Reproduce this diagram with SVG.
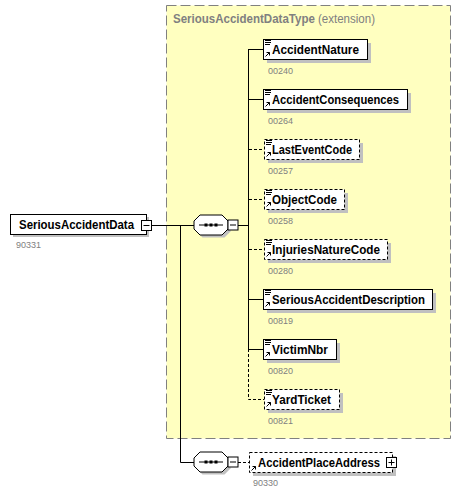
<svg xmlns="http://www.w3.org/2000/svg" width="464" height="494" viewBox="0 0 464 494">
<style>
.box{fill:#fff;stroke:#000;stroke-width:1}
.opt{stroke-dasharray:3,2}
.sh{fill:#c0c0c0}
.nm{font-family:"Liberation Sans",Arial,sans-serif;font-weight:bold;font-size:12px;fill:#000}
.num{font-family:"Liberation Sans",Arial,sans-serif;font-size:9px;fill:#808080}
.ln{stroke:#000;stroke-width:1;fill:none}
.dl{stroke:#000;stroke-width:1;fill:none;stroke-dasharray:3,2}
</style>
<defs>
<g id="icons">
<path stroke="#000" stroke-width="1" fill="none" d="M2 1.5h6M2 3.5h6M2 5.5h5"/>
<path d="M2.5 17.5l4-4M3.5 13.5h3v3" stroke="#000" stroke-width="1" fill="none"/>
</g>
<g id="seq">
<path class="sh" d="M9 3h22l6 6v8l-6 6h-22l-6-6v-8z"/>
<path fill="#fff" stroke="#000" d="M6.5 0.5h22l6 6v8l-6 6h-22l-6-6v-8z"/>
<path class="ln" d="M5.5 10.5h24"/>
<rect x="11" y="9" width="3" height="3" fill="#000"/>
<rect x="16" y="9" width="3" height="3" fill="#000"/>
<rect x="21" y="9" width="3" height="3" fill="#000"/>
<rect x="34.5" y="5.5" width="10" height="10" class="box"/>
<path class="ln" d="M36.5 10.5h6"/>
</g>
</defs>
<g id="extension">
<rect x="166.5" y="5.5" width="284" height="433" fill="#ffffc0" stroke="#808080" stroke-dasharray="10,4"/>
<text x="173" y="23" font-family="'Liberation Sans',Arial,sans-serif" font-size="12" fill="#808080" textLength="202" lengthAdjust="spacingAndGlyphs"><tspan font-weight="bold">SeriousAccidentDataType</tspan> (extension)</text>
</g>
<g id="connectors">
<path class="ln" d="M152 225.5H194M180.5 225V462.5H194"/>
<path class="ln" d="M238 225.5H248.5"/>
<path class="ln" d="M248.5 49V349"/>
<path class="dl" d="M248.5 349V399.5H264"/>
<path class="ln" d="M248 49.5H263M248 99.5H263M248 299.5H263M248 349.5H263"/>
<path class="dl" d="M249 149.5H264M249 199.5H264M249 249.5H264"/>
<path class="dl" d="M238 462.5H249"/>
</g>
<g id="SeriousAccidentData">
<rect x="13" y="217" width="136" height="20" class="sh"/>
<rect x="10.5" y="214.5" width="136" height="20" class="box"/>
<text x="19" y="229" class="nm" textLength="115" lengthAdjust="spacingAndGlyphs">SeriousAccidentData</text>
<rect x="141.5" y="220.5" width="10" height="10" class="box"/>
<path class="ln" d="M143.5 225.5h6"/>
<text x="16" y="248" class="num">90331</text>
</g>
<g id="sequence1" transform="translate(193.5,214.5)"><use href="#seq"/></g>
<g id="sequence2" transform="translate(193.5,451.5)"><use href="#seq"/></g>
<g id="AccidentNature">
<rect x="267" y="43" width="104" height="20" class="sh"/>
<rect x="263.5" y="39.5" width="104" height="20" class="box"/>
<use href="#icons" transform="translate(263,39)"/>
<text x="272" y="54" class="nm" textLength="87" lengthAdjust="spacingAndGlyphs">AccidentNature</text>
<text x="268" y="74" class="num">00240</text>
</g>
<g id="AccidentConsequences">
<rect x="267" y="93" width="144" height="20" class="sh"/>
<rect x="263.5" y="89.5" width="144" height="20" class="box"/>
<use href="#icons" transform="translate(263,89)"/>
<text x="272" y="104" class="nm" textLength="127" lengthAdjust="spacingAndGlyphs">AccidentConsequences</text>
<text x="268" y="124" class="num">00264</text>
</g>
<g id="LastEventCode">
<rect x="268" y="143" width="95" height="20" class="sh"/>
<rect x="264.5" y="139.5" width="95" height="20" class="box opt"/>
<use href="#icons" transform="translate(264,139)"/>
<text x="272" y="154" class="nm" textLength="80" lengthAdjust="spacingAndGlyphs">LastEventCode</text>
<text x="268" y="174" class="num">00257</text>
</g>
<g id="ObjectCode">
<rect x="268" y="193" width="80" height="20" class="sh"/>
<rect x="264.5" y="189.5" width="80" height="20" class="box opt"/>
<use href="#icons" transform="translate(264,189)"/>
<text x="272" y="204" class="nm" textLength="65" lengthAdjust="spacingAndGlyphs">ObjectCode</text>
<text x="268" y="224" class="num">00258</text>
</g>
<g id="InjuriesNatureCode">
<rect x="268" y="243" width="123" height="20" class="sh"/>
<rect x="264.5" y="239.5" width="123" height="20" class="box opt"/>
<use href="#icons" transform="translate(264,239)"/>
<text x="272" y="254" class="nm" textLength="108" lengthAdjust="spacingAndGlyphs">InjuriesNatureCode</text>
<text x="268" y="274" class="num">00280</text>
</g>
<g id="SeriousAccidentDescription">
<rect x="267" y="293" width="169" height="20" class="sh"/>
<rect x="263.5" y="289.5" width="169" height="20" class="box"/>
<use href="#icons" transform="translate(263,289)"/>
<text x="272" y="304" class="nm" textLength="153" lengthAdjust="spacingAndGlyphs">SeriousAccidentDescription</text>
<text x="268" y="324" class="num">00819</text>
</g>
<g id="VictimNbr">
<rect x="267" y="343" width="73" height="20" class="sh"/>
<rect x="263.5" y="339.5" width="73" height="20" class="box"/>
<use href="#icons" transform="translate(263,339)"/>
<text x="272" y="354" class="nm" textLength="56" lengthAdjust="spacingAndGlyphs">VictimNbr</text>
<text x="268" y="374" class="num">00820</text>
</g>
<g id="YardTicket">
<rect x="268" y="393" width="75" height="20" class="sh"/>
<rect x="264.5" y="389.5" width="75" height="20" class="box opt"/>
<use href="#icons" transform="translate(264,389)"/>
<text x="272" y="404" class="nm" textLength="59" lengthAdjust="spacingAndGlyphs">YardTicket</text>
<text x="268" y="424" class="num">00821</text>
</g>
<g id="AccidentPlaceAddress">
<rect x="253" y="456" width="143" height="20" class="sh"/>
<rect x="249.5" y="452.5" width="143" height="20" class="box opt"/>
<path d="M251.5 470.5l4-4M252.5 466.5h3v3" stroke="#000" stroke-width="1" fill="none"/>
<text x="258" y="467" class="nm" textLength="122" lengthAdjust="spacingAndGlyphs">AccidentPlaceAddress</text>
<rect x="386.5" y="457.5" width="10" height="10" class="box"/>
<path class="ln" d="M388.5 462.5h6M391.5 459.5v6"/>
<text x="253" y="486" class="num">90330</text>
</g>
</svg>
